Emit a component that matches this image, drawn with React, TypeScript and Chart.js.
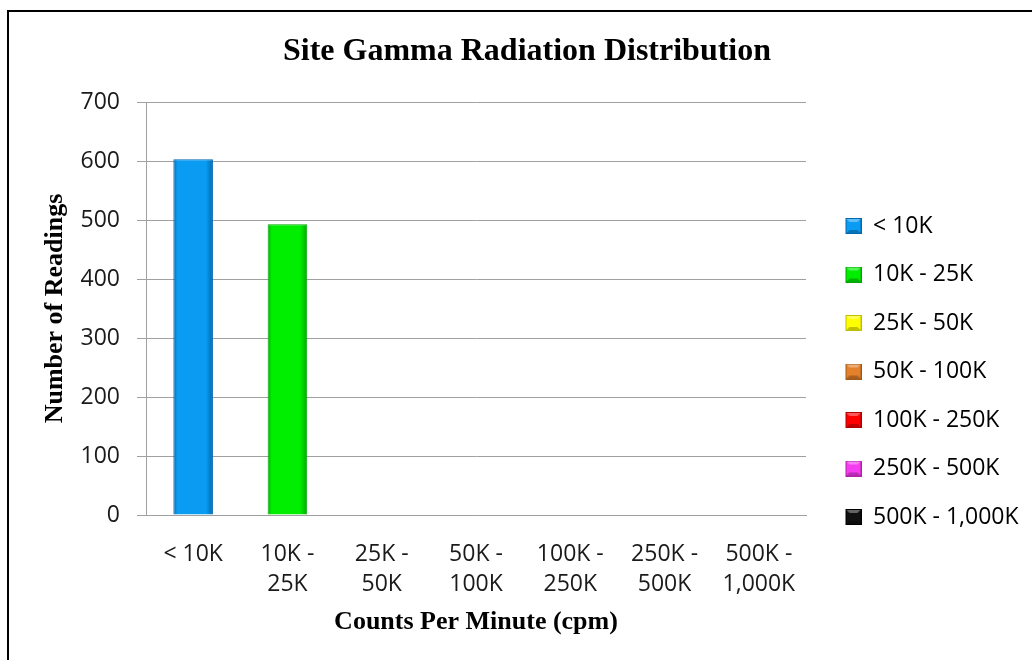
import React, { useEffect, useRef } from "react";
import { Chart, registerables } from "chart.js";

Chart.register(...registerables);

const chartTitle = "Site Gamma Radiation Distribution";
const xTitle = "Counts Per Minute (cpm)";
const yTitle = "Number of Readings";
const categories = ["< 10K", "10K - 25K", "25K - 50K", "50K - 100K", "100K - 250K", "250K - 500K", "500K - 1,000K"];
const tickLabels = [["< 10K"], ["10K -", "25K"], ["25K -", "50K"], ["50K -", "100K"], ["100K -", "250K"], ["250K -", "500K"], ["500K -", "1,000K"]];
const readings = [603, 493, 0, 0, 0, 0, 0];
const barColors = ["#0a9cf2", "#00ee00", "#ffff00", "#e4812c", "#ff0000", "#f43cf0", "#111111"];
const edgeColors = ["#0068b0", "#00a800", "#c0c000", "#a05a18", "#b00000", "#b020a8", "#000000"];
const yTicks = [0, 100, 200, 300, 400, 500, 600, 700];

function makeIcon(fill: string, edge: string, w: number) {
  const c = document.createElement("canvas");
  c.width = w;
  c.height = 16;
  const g = c.getContext("2d")!;
  const x0 = w - 16;
  g.fillStyle = fill;
  g.fillRect(x0, 0, 16, 16);
  g.fillStyle = "rgba(255,255,255,0.35)";
  g.beginPath();
  g.moveTo(x0, 0);
  g.lineTo(x0 + 16, 0);
  g.lineTo(x0 + 12, 4);
  g.lineTo(x0 + 4, 4);
  g.closePath();
  g.fill();
  g.fillStyle = "rgba(0,0,0,0.25)";
  g.beginPath();
  g.moveTo(x0, 16);
  g.lineTo(x0 + 16, 16);
  g.lineTo(x0 + 12, 12);
  g.lineTo(x0 + 4, 12);
  g.closePath();
  g.fill();
  g.strokeStyle = edge;
  g.lineWidth = 1;
  g.strokeRect(x0 + 0.5, 0.5, 15, 15);
  return c;
}

const BAR_PCT = 0.42;

export default function App() {
  const ref = useRef<HTMLCanvasElement>(null);

  useEffect(() => {
    const canvas = ref.current!;
    const W = 1060;
    const H = 743;
    const sans = "'Open Sans', sans-serif";
    const serif = "'Liberation Serif', 'Times New Roman', serif";
    const legendFontSize = 23;
    const legendPad = 25.5;
    const iconW = 30;
    const meas = document.createElement("canvas").getContext("2d")!;
    meas.font = `normal ${legendFontSize}px ${sans}`;
    const maxText = Math.max(...categories.map((c) => meas.measureText(c).width));
    const legendW = legendPad + iconW + legendFontSize / 2 + maxText + 10;
    const plotRight = 806;
    const plotLeft = 146;
    const plotBottom = 515;
    const titleCenter = 527;
    const padR = W - plotRight - legendW;
    const padL = 2 * titleCenter - W + padR;
    const icons = categories.map((_, i) => makeIcon(barColors[i], edgeColors[i], iconW));

    const barFill = (ctx: any) => {
      const i = ctx.dataIndex;
      const chart = ctx.chart;
      const xs = chart.scales && chart.scales.x;
      if (!chart.chartArea || !xs || i === undefined) return barColors[i ?? 0];
      const cx = xs.getPixelForValue(i);
      const half = ((chart.chartArea.right - chart.chartArea.left) / categories.length) * BAR_PCT / 2;
      const g = chart.ctx.createLinearGradient(cx - half, 0, cx + half, 0);
      g.addColorStop(0, edgeColors[i]);
      g.addColorStop(0.1, barColors[i]);
      g.addColorStop(0.82, barColors[i]);
      g.addColorStop(1, edgeColors[i]);
      return g;
    };

    const chart = new Chart(canvas, {
      type: "bar",
      data: {
        labels: categories,
        datasets: [
          {
            label: "Readings",
            data: readings,
            backgroundColor: barFill,
            borderColor: edgeColors,
            borderWidth: 1,
            barPercentage: BAR_PCT,
            categoryPercentage: 1,
          },
        ],
      },
      options: {
        animation: false,
        responsive: false,
        devicePixelRatio: 1,
        layout: { padding: { left: padL, right: padR, top: 0, bottom: 0 } },
        plugins: {
          title: {
            display: true,
            text: chartTitle,
            color: "#000",
            font: { family: serif, size: 32, weight: "bold" },
            padding: { top: 32.8, bottom: 30.8 },
          },
          legend: {
            display: true,
            position: "right",
            align: "center",
            labels: {
              usePointStyle: true,
              pointStyleWidth: iconW,
              padding: legendPad,
              color: "#1a1a1a",
              font: { family: sans, size: legendFontSize },
              generateLabels: () =>
                categories.map((c, i) => ({
                  text: c,
                  fillStyle: barColors[i],
                  strokeStyle: edgeColors[i],
                  lineWidth: 1,
                  pointStyle: icons[i] as any,
                  hidden: false,
                  index: i,
                  datasetIndex: 0,
                })),
            },
          },
          tooltip: { enabled: false },
        },
        scales: {
          x: {
            grid: { display: false },
            border: { display: true, color: "#a0a0a0" },
            ticks: {
              autoSkip: false,
              maxRotation: 0,
              minRotation: 0,
              padding: 17,
              color: "#1a1a1a",
              font: { family: sans, size: 23, lineHeight: 1.28 },
              callback: (_v: any, i: number) => tickLabels[i],
            },
            title: {
              display: true,
              text: xTitle,
              color: "#000",
              font: { family: serif, size: 26, weight: "bold" },
              padding: { top: 0, bottom: 121 - 15.6 },
            },
            afterFit: (s: any) => {
              s.height = H - plotBottom;
            },
          },
          y: {
            min: 0,
            max: 700,
            afterBuildTicks: (s: any) => {
              s.ticks = yTicks.map((v) => ({ value: v }));
            },
            grid: { color: "#a0a0a0", lineWidth: 1, tickLength: 9, drawTicks: true },
            border: { display: true, color: "#a0a0a0" },
            ticks: {
              padding: 17,
              color: "#1a1a1a",
              font: { family: sans, size: 23 },
            },
            title: {
              display: true,
              text: yTitle,
              color: "#000",
              font: { family: serif, size: 26, weight: "bold" },
              padding: { top: 55 - 15.6 - padL, bottom: 0 },
            },
            afterFit: (s: any) => {
              s.width = plotLeft - padL;
            },
          },
        },
      },
    });
    return () => chart.destroy();
  }, []);

  return (
    <div
      style={{
        position: "fixed",
        left: 0,
        top: 0,
        width: 1032,
        height: 660,
        overflow: "hidden",
        background: "#fff",
      }}
    >
      <div
        style={{
          position: "absolute",
          left: 7,
          top: 10,
          width: 1200,
          height: 900,
          borderLeft: "2px solid #000",
          borderTop: "2px solid #000",
          boxSizing: "border-box",
        }}
      />
      <canvas
        ref={ref}
        width={1060}
        height={743}
        style={{ position: "absolute", left: 0, top: 0, width: 1060, height: 743 }}
      />
    </div>
  );
}
